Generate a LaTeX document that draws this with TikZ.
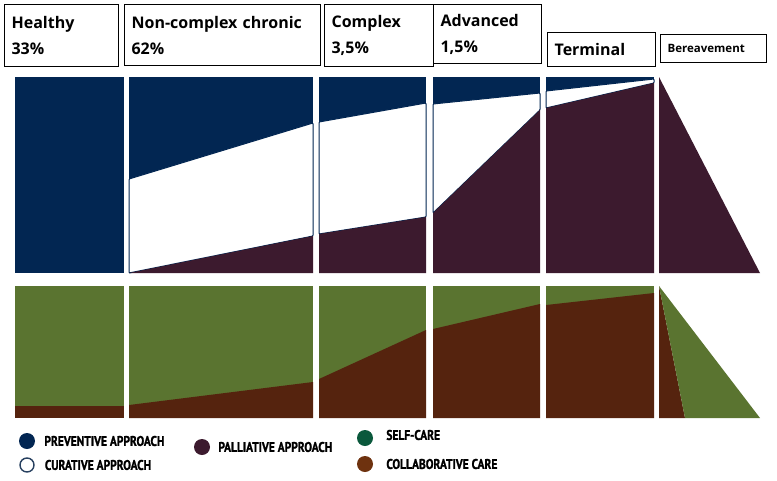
\documentclass[tikz,border=0pt]{standalone}
\usepackage{fontspec}
\setmainfont{Open Sans}
\newfontfamily\leyfont[FakeStretch=0.82,UprightFont={* Bold},FakeBold=1.2]{PT Sans}
\usetikzlibrary{positioning}

\definecolor{azul}{RGB}{2,38,82}
\definecolor{morado}{RGB}{60,26,46}
\definecolor{verde}{RGB}{90,116,48}
\definecolor{marron}{RGB}{85,35,14}
\definecolor{verdeley}{RGB}{10,88,60}
\definecolor{marronley}{RGB}{110,50,15}

\tikzstyle{cabecera}= [rectangle,draw,black,line width=1.2pt,anchor=north west,align=left,inner xsep=7pt,inner ysep=0pt,font=\bfseries\fontsize{16}{26}\selectfont]
\tikzstyle{curativo}= [fill=white,draw=azul,line width=1pt,rounded corners=0.8pt]
\tikzstyle{punto}= [circle,minimum size=16pt,inner sep=0pt]
\tikzstyle{etiqueta}= [anchor=west,inner sep=0pt,font=\leyfont\fontsize{14}{15}\selectfont]

\begin{document}
\begin{tikzpicture}[x=1pt,y=-1pt]
		\useasboundingbox (0,0) rectangle (777,480);

		% cabeceras
		\node (sano) at (4,4) [cabecera,text width=100pt,minimum height=62pt] {Healthy\\33\%};
		\node (cronico) at (124,4) [cabecera,text width=182pt,minimum height=61pt] {Non-complex chronic\\62\%};
		\node (complejo) at (324,4) [cabecera,text width=95pt,minimum height=62pt] {Complex\\3,5\%};
		\node (avanzado) at (433,4) [cabecera,text width=94pt,minimum height=59pt] {Advanced\\1,5\%};
		\node (terminal) at (547,32) [cabecera,text width=94pt,minimum height=34pt] {Terminal};
		\node (duelo) at (660,34) [cabecera,text width=92pt,minimum height=28pt,inner xsep=7pt,font=\bfseries\fontsize{11.5}{12}\selectfont] {Bereavement};

		% panel superior
		\fill[azul] (15,77) rectangle (124,273);
		\fill[azul] (129,77) rectangle (313,273);
		\fill[azul] (319,77) rectangle (426,273);
		\fill[azul] (433,77) rectangle (540,273);
		\fill[azul] (546,77) rectangle (654,273);

		\filldraw[curativo] (129,179) -- (313,123) -- (313,236) -- (129,273) -- cycle;
		\fill[morado] (129,273) -- (313,236) -- (313,273) -- cycle;
		\filldraw[curativo] (319,122) -- (426,103) -- (426,217) -- (319,234) -- cycle;
		\fill[morado] (319,234) -- (426,217) -- (426,273) -- (319,273) -- cycle;
		\filldraw[curativo] (433,104) -- (540,93) -- (540,110) -- (433,213) -- cycle;
		\fill[morado] (433,213) -- (540,110) -- (540,273) -- (433,273) -- cycle;
		\filldraw[curativo] (546,91) -- (654,79) -- (654,83) -- (546,108) -- cycle;
		\fill[morado] (546,108) -- (654,83) -- (654,273) -- (546,273) -- cycle;
		\fill[morado] (659,77) -- (760,273) -- (659,273) -- cycle;

		% panel inferior
		\fill[verde] (15,286) rectangle (124,418);
		\fill[verde] (129,286) rectangle (313,418);
		\fill[verde] (319,286) rectangle (426,418);
		\fill[verde] (433,286) rectangle (540,418);
		\fill[verde] (546,286) rectangle (654,418);

		\fill[marron] (15,406) rectangle (124,418);
		\fill[marron] (129,405) -- (313,382) -- (313,418) -- (129,418) -- cycle;
		\fill[marron] (319,379) -- (426,330) -- (426,418) -- (319,418) -- cycle;
		\fill[marron] (433,329) -- (540,304) -- (540,418) -- (433,418) -- cycle;
		\fill[marron] (546,305) -- (654,293) -- (654,418) -- (546,418) -- cycle;
		\fill[marron] (659,286) -- (685,418) -- (659,418) -- cycle;
		\fill[verde] (659,286) -- (760,418) -- (685,418) -- cycle;

		% leyenda
		\node (prev) at (27,441) [punto,fill=azul] {};
		\node (tprev) [etiqueta,right=9pt of prev] {PREVENTIVE APPROACH};
		\node (cura) at (27,465) [punto,draw=azul!70!gray,line width=1.4pt,fill=white,minimum size=14pt] {};
		\node (tcura) [etiqueta,right=10pt of cura] {CURATIVE APPROACH};
		\node (pali) at (202,447) [punto,fill=morado] {};
		\node (tpali) [etiqueta,right=8pt of pali] {PALLIATIVE APPROACH};
		\node (auto) at (365,438) [punto,fill=verdeley] {};
		\node (tauto) [etiqueta,right=13pt of auto,yshift=3pt] {SELF-CARE};
		\node (colab) at (365,464) [punto,fill=marronley] {};
		\node (tcolab) [etiqueta,right=13pt of colab] {COLLABORATIVE CARE};

	\end{tikzpicture}
\end{document}
